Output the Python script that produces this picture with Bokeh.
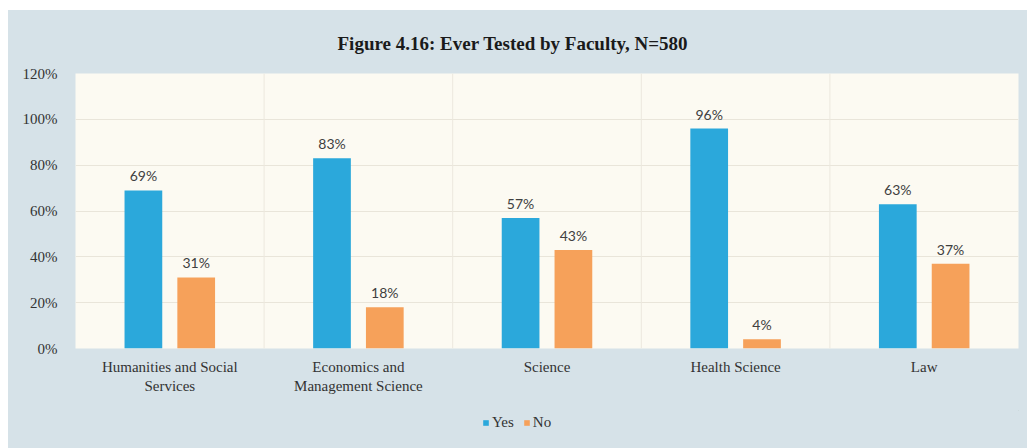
from bokeh.plotting import figure
from bokeh.layouts import column
from bokeh.models import (FactorRange, Range1d, SingleIntervalTicker, PrintfTickFormatter,
                          Legend, LegendItem, Span, ColumnDataSource)
from bokeh.transform import dodge
from bokeh.core.properties import value
from bokeh.embed import file_html
from bokeh.resources import INLINE

categories = ["Humanities and Social\nServices", "Economics and\nManagement Science",
              "Science", "Health Science", "Law"]
yes_values = [69, 83, 57, 96, 63]
no_values = [31, 18, 43, 4, 37]
series_names = ["Yes", "No"]
y_ticks_step = 20
y_max = 120
title_text = "Figure  4.16: Ever Tested by Faculty,  N=580"

BLUE = "#2ba8db"
ORANGE = "#f6a15a"
SERIF = "Liberation Serif"
OUTER = "#d6e2e8"

src = ColumnDataSource(dict(
    cat=categories,
    yes=yes_values,
    no=no_values,
    yes_lbl=[f"{v}%" for v in yes_values],
    no_lbl=[f"{v}%" for v in no_values],
))

p = figure(x_range=FactorRange(*categories), y_range=Range1d(0, y_max),
           width=1019, height=400, output_backend="svg", toolbar_location=None,
           min_border_left=67, min_border_right=9, min_border_top=63, min_border_bottom=62)
p.background_fill_color = "#fcfaf2"
p.border_fill_color = OUTER
p.outline_line_color = None

p.title.text = title_text
p.title.align = "left"
p.title.offset = 262
p.title.text_font = SERIF
p.title.text_font_size = "19px"
p.title.text_font_style = "bold"
p.title.text_color = "#1a1a1a"
p.title.standoff = 40

r_yes = p.vbar(x=dodge("cat", -0.14, range=p.x_range), top="yes", width=0.2,
               source=src, color=BLUE, line_color=None)
r_no = p.vbar(x=dodge("cat", 0.14, range=p.x_range), top="no", width=0.2,
              source=src, color=ORANGE, line_color=None)

for col, off in (("yes", -0.14), ("no", 0.14)):
    p.text(x=dodge("cat", off, range=p.x_range), y=col, text=col + "_lbl", source=src,
           text_align="center", text_baseline="bottom", y_offset=-6,
           text_font=value("Lato"), text_font_size="14px", text_color="#404040")

# axes
p.yaxis.ticker = SingleIntervalTicker(interval=y_ticks_step)
p.yaxis.formatter = PrintfTickFormatter(format="%d%%")
for ax in (p.xaxis[0], p.yaxis[0]):
    ax.axis_line_color = None
    ax.major_tick_line_color = None
    ax.minor_tick_line_color = None
    ax.major_label_text_font = SERIF
    ax.major_label_text_font_size = "15px"
    ax.major_label_text_color = "#333333"
p.yaxis.major_label_standoff = 12
p.xaxis.major_label_standoff = 4

p.ygrid.grid_line_color = "#e9e5da"
p.xgrid.grid_line_color = None
for i in range(1, len(categories)):
    p.add_layout(Span(location=i, dimension="height", line_color="#ece8de", line_width=1))

# legend strip below the chart (dummy renderers live outside the visible range)
lg = figure(width=1019, height=38, x_range=Range1d(0, 1), y_range=Range1d(0, 1),
            output_backend="svg", toolbar_location=None,
            x_axis_location=None, y_axis_location=None, min_border=0)
lg.background_fill_color = OUTER
lg.border_fill_color = OUTER
lg.outline_line_color = None
lg.grid.visible = False
d_yes = lg.vbar(x=[5], top=[5], bottom=[4], width=0.1, color=BLUE, line_color=None)
d_no = lg.vbar(x=[5], top=[5], bottom=[4], width=0.1, color=ORANGE, line_color=None)
legend = Legend(items=[LegendItem(label=series_names[0], renderers=[d_yes]),
                       LegendItem(label=series_names[1], renderers=[d_no])],
                orientation="horizontal", location=(407, 17),
                background_fill_alpha=0, border_line_color=None,
                glyph_width=7, glyph_height=7, spacing=9, label_standoff=3,
                label_text_font=SERIF, label_text_font_size="15px", label_text_color="#333333",
                padding=0, margin=0)
lg.add_layout(legend)

layout = column(p, lg, spacing=0)
layout.margin = (10, 0, 0, 8)
layout.background = OUTER

open("out.html", "w").write(file_html(layout, INLINE))
